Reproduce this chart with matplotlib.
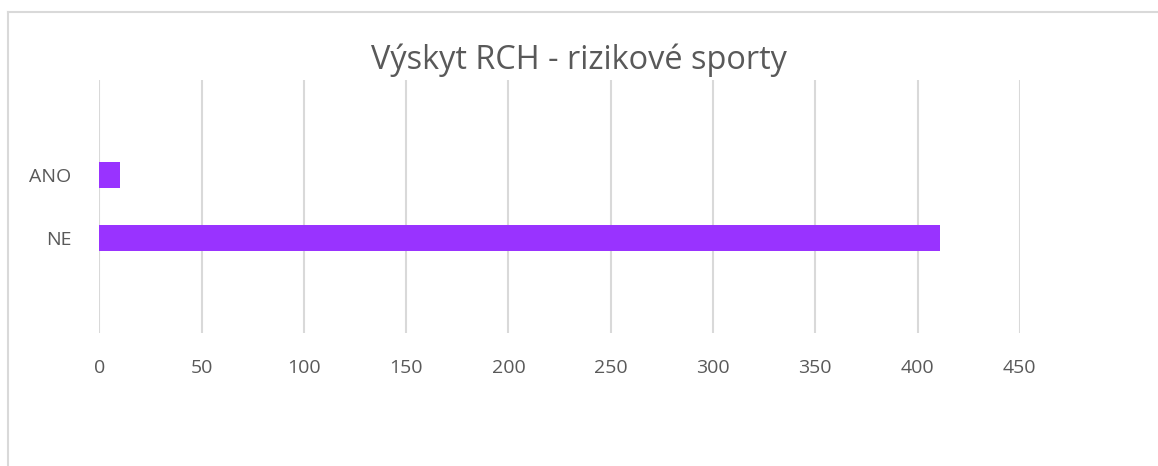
import matplotlib.pyplot as plt
from matplotlib.lines import Line2D
import numpy as np

# data (excel-style: first category at the bottom, two empty slots)
categories = ["", "NE", "ANO", ""]
values = [0, 411, 10, 0]
x_ticks = [0, 50, 100, 150, 200, 250, 300, 350, 400, 450]

TEXT = '#595959'
GRID = '#d9d9d9'
BAR = '#9933ff'

fig = plt.figure(figsize=(11.58, 4.66), dpi=100)
ax = fig.add_axes([0.0857, 0.2854, 0.795, 0.5429])

y_pos = np.arange(len(categories))
ax.barh(y_pos, values, height=0.4, color=BAR, linewidth=0, zorder=3)

ax.set_xlim(0, 450)
ax.set_ylim(-0.5, len(categories) - 0.5)
ax.set_xticks(x_ticks)
ax.set_xticklabels([str(t) for t in x_ticks])
ax.set_yticks(y_pos)
ax.set_yticklabels(categories)

for s in ax.spines.values():
	s.set_visible(False)
ax.grid(axis='x', color=GRID, linewidth=1.5, zorder=0)
ax.tick_params(axis='both', length=0, colors=TEXT, labelsize=14)
ax.tick_params(axis='x', pad=19)
ax.tick_params(axis='y', pad=20)
for lab in ax.get_xticklabels() + ax.get_yticklabels():
	lab.set_fontfamily('Open Sans')

fig.text(0.5, 1 - 60 / 466, "Výskyt RCH - rizikové sporty", ha='center', va='center',
	fontsize=23.4, color=TEXT, family='Open Sans')

# chart area frame (only top and left are visible in the crop)
fig.add_artist(Line2D([8 / 1158, 8 / 1158], [0, 1 - 12 / 466], transform=fig.transFigure, color=GRID, linewidth=1.5))
fig.add_artist(Line2D([8 / 1158, 1], [1 - 12 / 466, 1 - 12 / 466], transform=fig.transFigure, color=GRID, linewidth=1.5))

plt.savefig("out.png", format="png", dpi=100)
